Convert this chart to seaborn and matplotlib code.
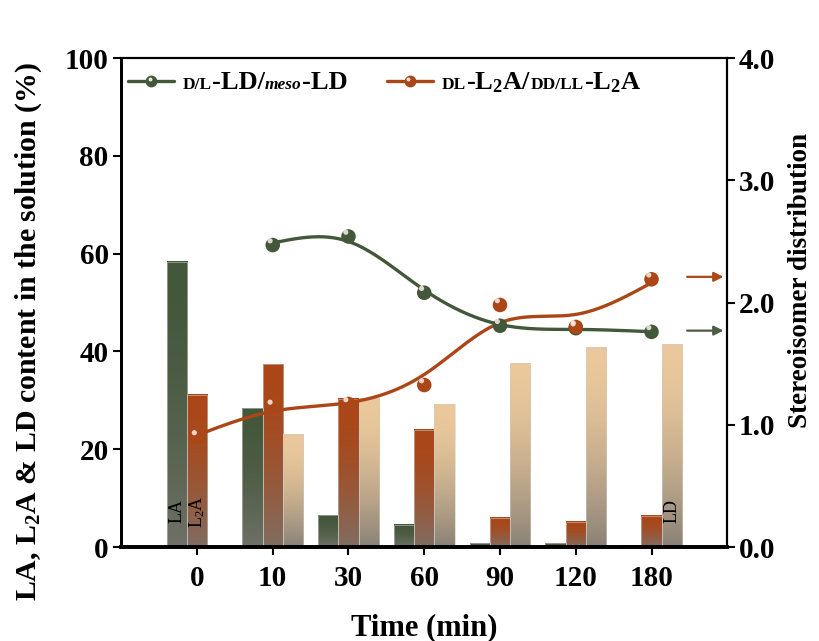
import numpy as np
import pandas as pd
import matplotlib
matplotlib.use("Agg")
import matplotlib.pyplot as plt
import seaborn as sns
from matplotlib.colors import to_rgb
from matplotlib.lines import Line2D
from matplotlib.offsetbox import AnchoredOffsetbox, HPacker, TextArea, DrawingArea

# ---------------- data ----------------
times = ["0", "10", "30", "60", "90", "120", "180"]
la_pct = [58.3, 28.4, 6.5, 4.5, 0.8, 0.8, 0.3]
l2a_pct = [31.1, 37.4, 30.3, 24.0, 6.0, 5.2, 6.4]
ld_pct = [0.0, 23.1, 30.3, 29.2, 37.6, 40.7, 41.5]

ld_ratio_times = ["10", "30", "60", "90", "120", "180"]
ld_ratio = [2.47, 2.54, 2.08, 1.81, 1.79, 1.76]
l2a_ratio_times = ["0", "10", "30", "60", "90", "120", "180"]
l2a_ratio = [0.90, 1.15, 1.17, 1.325, 1.98, 1.80, 2.19]

components = ["LA", "L2A", "LD"]

GREEN = "#43573a"
ORANGE = "#ab4617"
BEIGE = "#ecc99c"
palette = {"LA": GREEN, "L2A": ORANGE, "LD": BEIGE}

# ---------------- style ----------------
sns.set_theme(style="white")
plt.rcParams["font.family"] = ["Liberation Serif", "DejaVu Serif"]
plt.rcParams["mathtext.fontset"] = "custom"
plt.rcParams["mathtext.rm"] = "Liberation Serif"
plt.rcParams["mathtext.it"] = "Liberation Serif:italic"
plt.rcParams["mathtext.bf"] = "Liberation Serif:bold"
for key in ["text.color", "axes.labelcolor", "xtick.color", "ytick.color", "axes.edgecolor"]:
    plt.rcParams[key] = "black"

df = pd.DataFrame({
    "time": times * 3,
    "component": ["LA"] * 7 + ["L2A"] * 7 + ["LD"] * 7,
    "value": la_pct + l2a_pct + ld_pct,
})

fig = plt.figure(figsize=(8.19, 6.41), dpi=100)
ax = fig.add_axes([0.148, 0.1466, 0.740, 0.7629])

sns.barplot(data=df, x="time", y="value", hue="component", order=times,
            hue_order=components, palette=palette, width=0.8, ax=ax,
            legend=False, saturation=1, errorbar=None)

# gradient fill for bars
gray = np.array([0.47, 0.46, 0.44])
for p in list(ax.patches):
    h = p.get_height()
    if h <= 0:
        p.set_visible(False)
        continue
    x0, w = p.get_x(), p.get_width()
    top = np.array(to_rgb(p.get_facecolor()))
    t = np.linspace(0, 1, 200)[:, None]
    k = 0.85 * t ** 1.7
    img = (top * (1 - k) + gray * k).reshape(200, 1, 3)
    ax.imshow(img, extent=[x0, x0 + w, 0, h], origin="upper", aspect="auto",
              zorder=p.get_zorder() - 0.1, interpolation="bilinear")
    p.set_facecolor("none")
    p.set_edgecolor("#cfcac5")
    p.set_linewidth(0.4)

ax.set_xlim(-1, 7)
ax.set_ylim(0, 100)
ax.set_aspect("auto")
ax.set_yticks([0, 20, 40, 60, 80, 100])
ax.set_xlabel("Time (min)", fontsize=22, fontweight="bold")
ax.set_ylabel(r"LA, L$_\mathbf{2}$A & LD content in the solution (%)",
              fontsize=21.5, fontweight="bold")
ax.xaxis.set_label_coords(0.5, -0.135)
ax.yaxis.set_label_coords(-0.128, 0.44)

# labels inside bars
ax.text(-0.267, 7.3, "LA", rotation=90, ha="center", va="center", fontsize=13)
ax.text(0.0, 7.3, r"L$_2$A", rotation=90, ha="center", va="center", fontsize=13)
ax.text(6.267, 7.3, "LD", rotation=90, ha="center", va="center", fontsize=13)

# ---------------- right axis ----------------
ax2 = ax.twinx()
ax2.set_ylim(0, 4.0)
ax2.set_yticks([0, 1, 2, 3, 4])
ax2.set_yticklabels(["0.0", "1.0", "2.0", "3.0", "4.0"])
ax2.set_ylabel("Stereoisomer distribution", fontsize=19.5, fontweight="bold")
ax2.yaxis.set_label_coords(1.10, 0.545)


def smooth_curve(xs, ys, lam, n=400):
    xs = np.asarray(xs, float)
    ys = np.asarray(ys, float)
    grid = np.linspace(xs.min(), xs.max(), n)
    hstep = grid[1] - grid[0]
    S = np.zeros((len(xs), n))
    for i, xv in enumerate(xs):
        j = min(int((xv - grid[0]) / hstep), n - 2)
        f = (xv - grid[j]) / hstep
        S[i, j] = 1 - f
        S[i, j + 1] = f
    D = np.zeros((n - 2, n))
    for i in range(n - 2):
        D[i, i:i + 3] = [1, -2, 1]
    D /= hstep ** 2
    A = S.T @ S + lam * hstep * (D.T @ D)
    f = np.linalg.solve(A, S.T @ ys)
    return grid, f


pos = {t: i for i, t in enumerate(times)}
gx = [pos[t] for t in ld_ratio_times]
ox = [pos[t] for t in l2a_ratio_times]

for xs, ys, col, lam in [(gx, ld_ratio, GREEN, 0.025), (ox, l2a_ratio, ORANGE, 0.06)]:
    cx, cy = smooth_curve(xs, ys, lam)
    ax2.plot(cx, cy, color=col, lw=2.4, zorder=3, solid_capstyle="round")
    sns.scatterplot(x=xs, y=ys, color=col, s=110, edgecolor="none", ax=ax2,
                    zorder=4, legend=False)
    # highlight for a 3-D ball look
    ax2.scatter(np.array(xs) - 0.035, np.array(ys) + 0.035, s=14,
                color="#f2e6e0", edgecolor="none", zorder=5, alpha=0.9)

# arrows pointing to right axis
ax2.annotate("", xy=(6.95, 2.21), xytext=(6.47, 2.21),
             arrowprops=dict(arrowstyle="-|>", color=ORANGE, lw=1.6,
                             mutation_scale=14, shrinkA=0, shrinkB=0))
ax2.annotate("", xy=(6.95, 1.77), xytext=(6.47, 1.77),
             arrowprops=dict(arrowstyle="-|>", color="#4b5e44", lw=1.6,
                             mutation_scale=14, shrinkA=0, shrinkB=0))

# ---------------- ticks and spines ----------------
for a in (ax, ax2):
    a.tick_params(direction="out", length=6, width=1.5, labelsize=21, pad=3)
    for lab in a.get_xticklabels() + a.get_yticklabels():
        lab.set_fontweight("bold")
ax.tick_params(axis="x", pad=7, top=False, bottom=True)
ax.tick_params(axis="y", left=True, right=False)
ax2.tick_params(axis="y", right=True, left=False, pad=2)
for a in (ax, ax2):
    for s in a.spines.values():
        s.set_color("black")
        s.set_visible(True)
    a.spines["left"].set_linewidth(2.0)
    a.spines["bottom"].set_linewidth(2.6)
    a.spines["top"].set_linewidth(1.5)
    a.spines["right"].set_linewidth(1.5)
ax2.grid(False)
ax.grid(False)


# ---------------- legend ----------------
def handle(col):
    da = DrawingArea(33, 12, 0, 0)
    da.add_artist(Line2D([0, 33], [6, 6], color=col, lw=2.4))
    da.add_artist(Line2D([16.5], [6], marker="o", color=col, markersize=8.5,
                         markeredgecolor="none"))
    da.add_artist(Line2D([15.3], [7.2], marker="o", color="#f2e6e0",
                         markersize=2.8, markeredgecolor="none"))
    return da


big = dict(fontsize=19, fontweight="bold", color="black")
small = dict(fontsize=12.5, fontweight="bold", color="black")
small_it = dict(fontsize=12.5, fontweight="bold", fontstyle="italic", color="black")

row = HPacker(children=[
    handle(GREEN),
    TextArea("  ", textprops=small),
    TextArea("D/L", textprops=small),
    TextArea("-LD/", textprops=big),
    TextArea("meso", textprops=small_it),
    TextArea("-LD", textprops=big),
    TextArea("         ", textprops=small),
    handle(ORANGE),
    TextArea("  ", textprops=small),
    TextArea("DL", textprops=small),
    TextArea(r"-L$_\mathbf{2}$A/", textprops=big),
    TextArea("DD/LL", textprops=small),
    TextArea(r"-L$_\mathbf{2}$A", textprops=big),
], align="baseline", pad=0, sep=0)

anch = AnchoredOffsetbox(loc="upper left", child=row, frameon=False,
                         bbox_to_anchor=(0.012, 0.975),
                         bbox_transform=ax2.transAxes, borderpad=0, pad=0)
ax2.add_artist(anch)

fig.savefig("out.png", dpi=100)
